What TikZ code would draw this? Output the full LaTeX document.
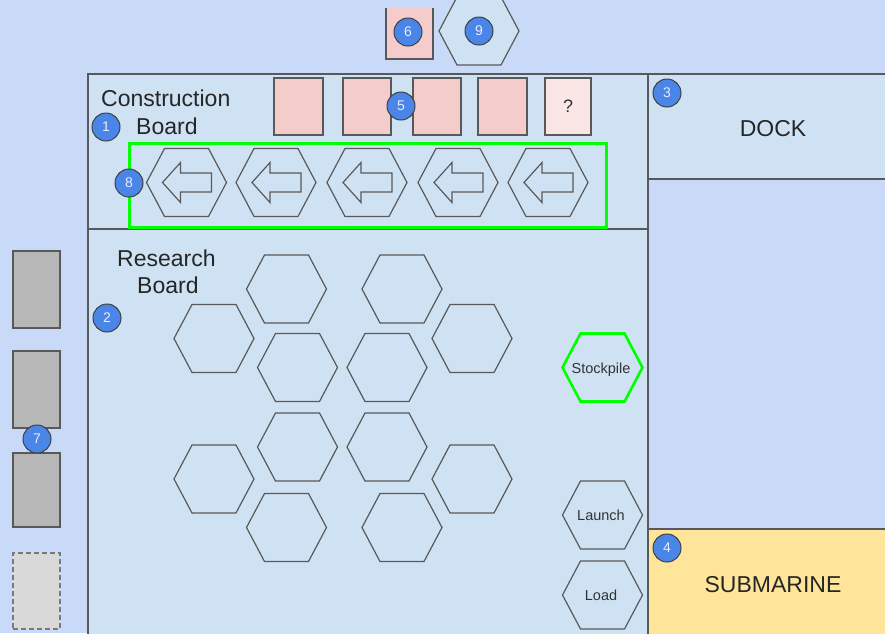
\documentclass[tikz,border=0pt]{standalone}
\usepackage{fontspec}
\setmainfont{Liberation Sans}

\definecolor{bgblue}{HTML}{C9DAF8}
\definecolor{boardblue}{HTML}{CFE2F3}
\definecolor{pinkbox}{HTML}{F4CCCC}
\definecolor{palepink}{HTML}{FCE5E5}
\definecolor{subyellow}{HTML}{FFE599}
\definecolor{tokengray}{HTML}{B7B7B7}
\definecolor{ghostgray}{HTML}{D9D9D9}
\definecolor{edgegray}{HTML}{595959}
\definecolor{badgeblue}{HTML}{4A86E8}
\definecolor{brightgreen}{HTML}{00FF00}

\tikzset{
  panel/.style={fill=boardblue, draw=edgegray, line width=1.3pt},
  card/.style={fill=pinkbox, draw=edgegray, line width=1.1pt},
  token/.style={fill=tokengray, draw=edgegray, line width=1.1pt},
  hexline/.style={fill=boardblue, draw=edgegray, line width=1.2pt},
  bigtext/.style={font=\fontsize{23}{23}\selectfont, text=black!85, inner sep=0pt},
  smalltext/.style={font=\fontsize{14.5}{15}\selectfont, text=black!80, inner sep=0pt, anchor=base},
  badge/.style={circle, fill=badgeblue, draw=black!75, line width=1pt,
    minimum size=28pt, inner sep=0pt, text=white!92!blue,
    font=\fontsize{14}{14}\selectfont},
  pics/hexcell/.style={code={
    \path[hexline] (-40,0) -- (-22,-34) -- (22,-34) -- (40,0)
      -- (22,34) -- (-22,34) -- cycle;}},
  pics/arrowcell/.style={code={
    \pic {hexcell};
    \path[draw=edgegray, line width=1.2pt] (-24,0) -- (-6,-20) -- (-6,-9.5)
      -- (25,-9.5) -- (25,9.5) -- (-6,9.5) -- (-6,20) -- cycle;}},
}

\begin{document}
\begin{tikzpicture}[x=1pt, y=-1pt]
  \useasboundingbox (0,0) rectangle (885,633);
  \clip (0,0) rectangle (885,633);
  \fill[bgblue] (0,0) rectangle (885,633);

  % boards and side areas
  \path[panel] (88,74) rectangle (648,645);
  \draw[edgegray, line width=1.3pt] (88,229) -- (648,229);
  \path[panel] (648,74) rectangle (895,179);
  \path[panel, fill=subyellow] (648,529) rectangle (895,645);

  % cards above the construction board
  \fill[pinkbox] (386,8) rectangle (433,59);
  \draw[edgegray, line width=1.1pt] (386,8) -- (386,59) -- (433,59) -- (433,8);
  \pic[hexline/.style={fill=boardblue, draw=edgegray, line width=1.2pt}] (reserve) at (479,31) {hexcell};

  % construction cards
  \node[card, minimum width=49pt, minimum height=57pt, inner sep=0pt] (c1) at (298.5,106.5) {};
  \node[card, minimum width=48pt, minimum height=57pt, inner sep=0pt] (c2) at (367,106.5) {};
  \node[card, minimum width=48pt, minimum height=57pt, inner sep=0pt] (c3) at (437,106.5) {};
  \node[card, minimum width=49pt, minimum height=57pt, inner sep=0pt] (c4) at (502.5,106.5) {};
  \node[card, fill=palepink, minimum width=46pt, minimum height=57pt, inner sep=0pt,
        font=\fontsize{18}{18}\selectfont, text=black!80] (c5) at (568,106.5) {?};

  % construction track
  \draw[brightgreen, line width=3pt] (129,143) rectangle (606,227);
  \foreach \cx [count=\i] in {186.5,276,367,458,548}
    \pic (track\i) at (\cx,182.5) {arrowcell};

  % research hexes
  \foreach \hx/\hy [count=\i] in {286.5/289, 402/289, 214/338.5, 472/338.5,
      297.5/367.5, 387/367.5, 297.5/447, 387/447, 214/479, 472/479,
      286.5/527.5, 402/527.5}
    \pic (research\i) at (\hx,\hy) {hexcell};

  \pic[hexline/.style={fill=boardblue, draw=brightgreen, line width=2.6pt}] (stockhex) at (602.5,367.5) {hexcell};
  \pic (launchhex) at (602.5,515) {hexcell};
  \pic (loadhex) at (602.5,595) {hexcell};
  \node[smalltext] (stocklabel) at (601,373) {Stockpile};
  \node[smalltext] (launchlabel) at (601,520) {Launch};
  \node[smalltext] (loadlabel) at (601,600) {Load};

  % side tokens
  \node[token, minimum width=47pt, minimum height=77pt, inner sep=0pt] (t1) at (36.5,289.5) {};
  \node[token, minimum width=47pt, minimum height=77pt, inner sep=0pt] (t2) at (36.5,389.5) {};
  \node[token, minimum width=47pt, minimum height=74pt, inner sep=0pt] (t3) at (36.5,490) {};
  \node[token, fill=ghostgray, draw=edgegray!80, dashed, dash pattern=on 5pt off 3pt,
        minimum width=47pt, minimum height=76pt, inner sep=0pt] (t4) at (36.5,591) {};

  % titles
  \node[bigtext, anchor=base west] (ctitle1) at (101,106) {Construction};
  \node[bigtext, anchor=base west] (ctitle2) at (136,134) {Board};
  \node[bigtext, anchor=base west] (rtitle1) at (117,266) {Research};
  \node[bigtext, anchor=base west] (rtitle2) at (137,293) {Board};
  \node[bigtext, anchor=base] (dock) at (773,136) {DOCK};
  \node[bigtext, anchor=base] (sub) at (773,592) {SUBMARINE};

  % numbered badges
  \node[badge] (b1) at (106,127) {1};
  \node[badge] (b2) at (107,318) {2};
  \node[badge] (b3) at (667,93) {3};
  \node[badge] (b4) at (667,548) {4};
  \node[badge] (b5) at (401,106) {5};
  \node[badge] (b6) at (408,32) {6};
  \node[badge] (b7) at (37,439) {7};
  \node[badge] (b8) at (129,183) {8};
  \node[badge] (b9) at (479,31) {9};
\end{tikzpicture}
\end{document}
